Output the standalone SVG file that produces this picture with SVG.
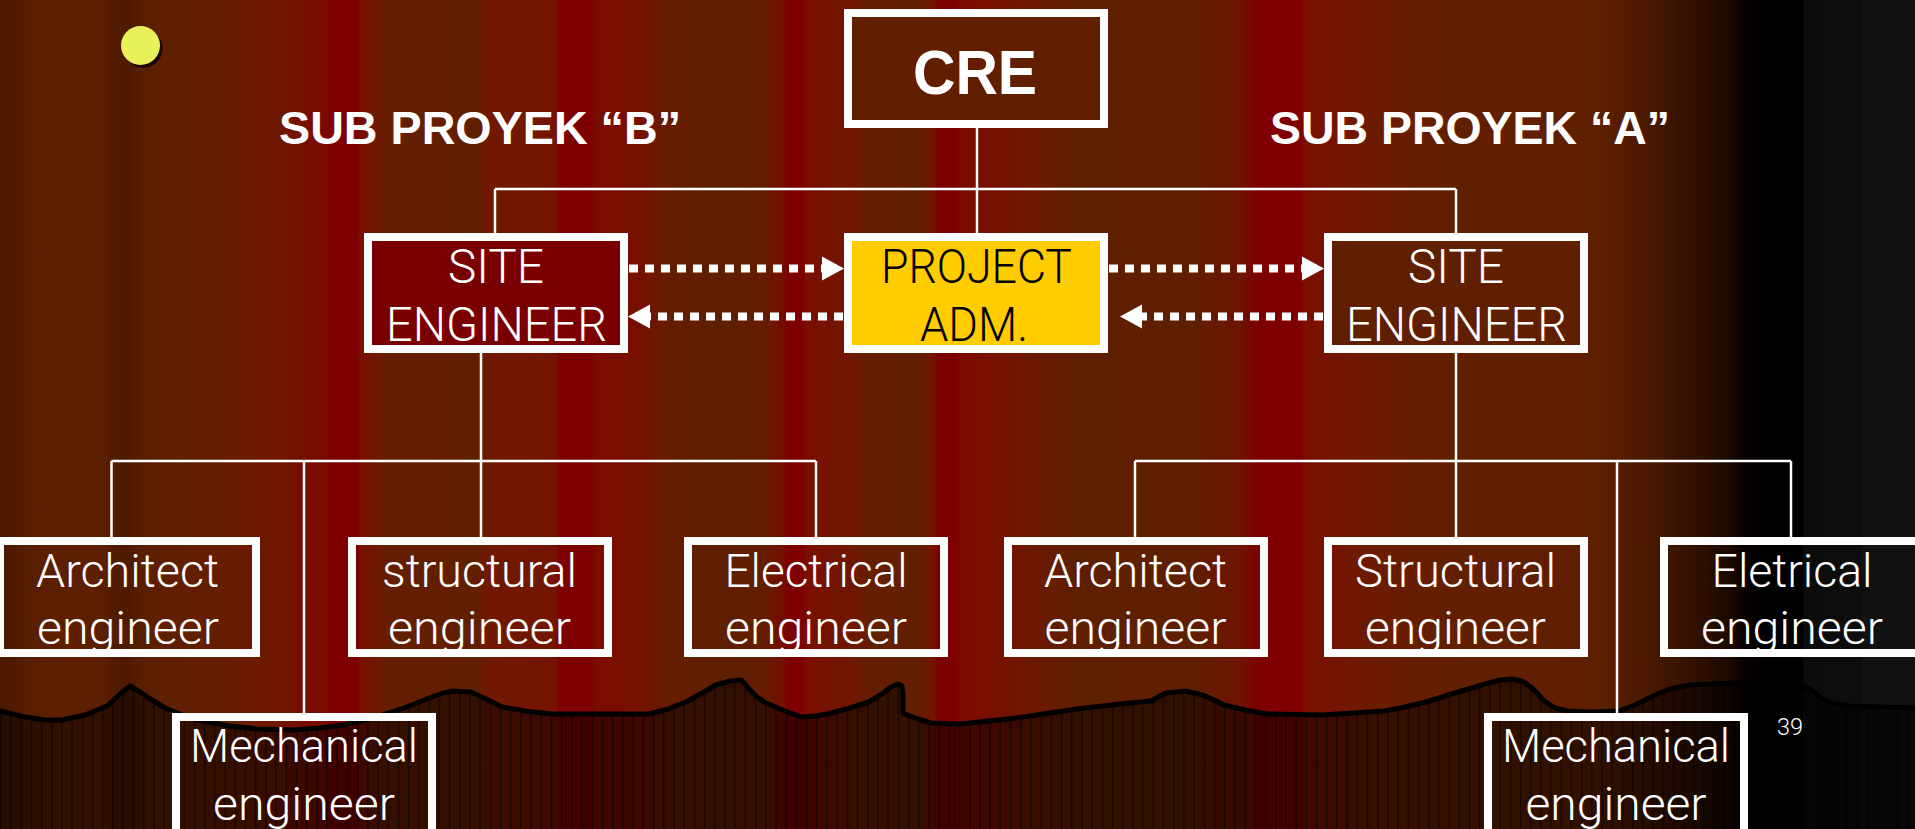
<svg xmlns="http://www.w3.org/2000/svg" width="1915" height="829" viewBox="0 0 1915 829">
  <defs>
    <linearGradient id="bg" gradientUnits="userSpaceOnUse" x1="0" y1="0" x2="1915" y2="0">
      <stop offset="0" stop-color="#4A1800"/>
      <stop offset=".0157" stop-color="#581D00"/>
      <stop offset=".0313" stop-color="#5E1F00"/>
      <stop offset=".0522" stop-color="#5E1F00"/>
      <stop offset=".0601" stop-color="#521B00"/>
      <stop offset=".0668" stop-color="#4E1A00"/>
      <stop offset=".0742" stop-color="#591E00"/>
      <stop offset=".0836" stop-color="#5F1F00"/>
      <stop offset=".1149" stop-color="#661D00"/>
      <stop offset=".1462" stop-color="#701600"/>
      <stop offset=".1702" stop-color="#7A0900"/>
      <stop offset=".1734" stop-color="#7E0000"/>
      <stop offset=".1864" stop-color="#7E0000"/>
      <stop offset=".1890" stop-color="#771200"/>
      <stop offset=".2037" stop-color="#651E00"/>
      <stop offset=".2496" stop-color="#621F00"/>
      <stop offset=".2538" stop-color="#701900"/>
      <stop offset=".2898" stop-color="#741400"/>
      <stop offset=".2924" stop-color="#7E0000"/>
      <stop offset=".3081" stop-color="#7E0000"/>
      <stop offset=".3107" stop-color="#7B0C00"/>
      <stop offset=".3342" stop-color="#761000"/>
      <stop offset=".3473" stop-color="#661C00"/>
      <stop offset=".3770" stop-color="#5E1F00"/>
      <stop offset=".3995" stop-color="#661C00"/>
      <stop offset=".4094" stop-color="#760C00"/>
      <stop offset=".4115" stop-color="#7E0000"/>
      <stop offset=".4188" stop-color="#7E0000"/>
      <stop offset=".4209" stop-color="#7A0E00"/>
      <stop offset=".4439" stop-color="#701700"/>
      <stop offset=".4543" stop-color="#641E00"/>
      <stop offset=".4794" stop-color="#621F00"/>
      <stop offset=".4877" stop-color="#741200"/>
      <stop offset=".4898" stop-color="#7E0000"/>
      <stop offset=".4987" stop-color="#7E0000"/>
      <stop offset=".5013" stop-color="#7A0A00"/>
      <stop offset=".5180" stop-color="#781000"/>
      <stop offset=".5431" stop-color="#6A1A00"/>
      <stop offset=".5624" stop-color="#5E1F00"/>
      <stop offset=".6204" stop-color="#5F1F00"/>
      <stop offset=".6475" stop-color="#6E1400"/>
      <stop offset=".6574" stop-color="#7E0000"/>
      <stop offset=".6794" stop-color="#7E0000"/>
      <stop offset=".6815" stop-color="#7A1000"/>
      <stop offset=".7227" stop-color="#6A1C00"/>
      <stop offset=".7593" stop-color="#621F00"/>
      <stop offset=".8345" stop-color="#5E1F00"/>
      <stop offset=".8616" stop-color="#4A1800"/>
      <stop offset=".8877" stop-color="#2E1000"/>
      <stop offset=".9034" stop-color="#1A0800"/>
      <stop offset=".9112" stop-color="#080000"/>
      <stop offset=".9191" stop-color="#000000"/>
      <stop offset=".9415" stop-color="#000000"/>
      <stop offset=".9420" stop-color="#0C0C0C"/>
      <stop offset=".9718" stop-color="#0D0D0D"/>
      <stop offset=".9729" stop-color="#111111"/>
      <stop offset="1" stop-color="#111111"/>
    </linearGradient>
    <pattern id="pleats" patternUnits="userSpaceOnUse" x="0" y="0" width="10.2" height="20">
      <rect x="0" y="0" width="1.4" height="20" fill="#000" fill-opacity="0.55"/>
    </pattern>
    <marker id="head" markerUnits="userSpaceOnUse" markerWidth="22" markerHeight="24" refX="0" refY="12" orient="auto" overflow="visible">
      <path d="M0,0 L22,12 L0,24 Z" fill="#FFFFFF"/>
    </marker>
    <path id="hem" d="M0,711 L25,717 L45,720 L62,720 L85,715 L107,706 L120,694 L130,686 L140,692 L152,700 L165,708 L185,716 L202,721 L230,726 L257,729 L294,730 L320,728 L343,725 L370,719 L392,712 L412,705 L429,698 L443,693 L453,691 L471,692 L486,699 L502,707 L525,711 L551,714 L600,714 L649,714 L668,709 L686,702 L702,693 L716,685 L730,681 L741,680 L746,685 L750,690 L757,697 L766,703 L785,711 L802,717 L815,716 L827,714 L850,708 L869,702 L882,694 L891,687 L898,684 L902,686 L903,695 L903,713 L915,718 L931,723 L960,724 L1016,718 L1077,709 L1120,704 L1151,701 L1160,696 L1166,693 L1185,691 L1203,695 L1214,700 L1224,705 L1245,710 L1267,714 L1322,715 L1384,711 L1405,707 L1426,702 L1455,693 L1482,685 L1500,680 L1512,679 L1522,681 L1531,687 L1538,694 L1543,700 L1555,708 L1567,711 L1590,712 L1619,711 L1635,705 L1653,696 L1670,689 L1690,685 L1733,683 L1770,683 L1800,685 L1810,689 L1815,693 L1822,699 L1828,702 L1849,706 L1880,707 L1915,708"/>
    <path id="drape" d="M0,711 L25,717 L45,720 L62,720 L85,715 L107,706 L120,694 L130,686 L140,692 L152,700 L165,708 L185,716 L202,721 L230,726 L257,729 L294,730 L320,728 L343,725 L370,719 L392,712 L412,705 L429,698 L443,693 L453,691 L471,692 L486,699 L502,707 L525,711 L551,714 L600,714 L649,714 L668,709 L686,702 L702,693 L716,685 L730,681 L741,680 L746,685 L750,690 L757,697 L766,703 L785,711 L802,717 L815,716 L827,714 L850,708 L869,702 L882,694 L891,687 L898,684 L902,686 L903,695 L903,713 L915,718 L931,723 L960,724 L1016,718 L1077,709 L1120,704 L1151,701 L1160,696 L1166,693 L1185,691 L1203,695 L1214,700 L1224,705 L1245,710 L1267,714 L1322,715 L1384,711 L1405,707 L1426,702 L1455,693 L1482,685 L1500,680 L1512,679 L1522,681 L1531,687 L1538,694 L1543,700 L1555,708 L1567,711 L1590,712 L1619,711 L1635,705 L1653,696 L1670,689 L1690,685 L1733,683 L1770,683 L1800,685 L1810,689 L1815,693 L1822,699 L1828,702 L1849,706 L1880,707 L1915,708 L1915,829 L0,829 Z"/>
    <style>
      .wire { stroke: #FFFFFF; stroke-width: 2.5; fill: none; }
      .dots { stroke: #FFFFFF; stroke-width: 8; stroke-dasharray: 9 7; fill: none; marker-end: url(#head); }
      .box { stroke: #FFFFFF; stroke-width: 8; }
      .open { fill: none; }
      .lbl { font-family: Roboto, "Liberation Sans", Arial, sans-serif; font-weight: 300; fill: #FFFFFF; text-anchor: middle; }
      .dark { fill: #000000; }
      .big { font-size: 48px; }
      .small { font-size: 47px; }
      .head { font-family: "Liberation Sans", Arial, sans-serif; font-weight: bold; fill: #FFFFFF; text-anchor: middle; }
    </style>
  </defs>

  <!-- striped stage background -->
  <rect x="0" y="0" width="1915" height="829" fill="url(#bg)"/>

  <!-- lower curtain with pleats and dark outline -->
  <g id="curtain">
    <use href="#drape" fill="#000" fill-opacity="0.48"/>
    <use href="#drape" fill="url(#pleats)"/>
    <use href="#hem" fill="none" stroke="#000" stroke-width="5" stroke-linejoin="round"/>
  </g>

  <!-- bullet -->
  <g id="bullet">
    <circle cx="143" cy="48.5" r="19.5" fill="#1A0600"/>
    <circle cx="140.5" cy="45.5" r="19.5" fill="#E8F05A"/>
  </g>

  <!-- section headings -->
  <text id="headingB" class="head" x="480" y="144" font-size="46" textLength="402" lengthAdjust="spacingAndGlyphs">SUB PROYEK “B”</text>
  <text id="headingA" class="head" x="1470" y="144" font-size="46" textLength="400" lengthAdjust="spacingAndGlyphs">SUB PROYEK “A”</text>

  <!-- connectors -->
  <g id="connectors">
    <line class="wire" x1="977" y1="128" x2="977" y2="233"/>
    <line class="wire" x1="495" y1="189" x2="1456" y2="189"/>
    <line class="wire" x1="495" y1="189" x2="495" y2="233"/>
    <line class="wire" x1="1456" y1="189" x2="1456" y2="233"/>

    <line class="wire" x1="481" y1="353" x2="481" y2="461"/>
    <line class="wire" x1="111.5" y1="461" x2="816" y2="461"/>
    <line class="wire" x1="111.5" y1="461" x2="111.5" y2="537"/>
    <line class="wire" x1="304" y1="461" x2="304" y2="713"/>
    <line class="wire" x1="481" y1="461" x2="481" y2="537"/>
    <line class="wire" x1="816" y1="461" x2="816" y2="537"/>

    <line class="wire" x1="1456" y1="353" x2="1456" y2="461"/>
    <line class="wire" x1="1135" y1="461" x2="1791" y2="461"/>
    <line class="wire" x1="1135" y1="461" x2="1135" y2="537"/>
    <line class="wire" x1="1456" y1="461" x2="1456" y2="537"/>
    <line class="wire" x1="1617" y1="461" x2="1617" y2="713"/>
    <line class="wire" x1="1791" y1="461" x2="1791" y2="537"/>

    <line class="dots" x1="629" y1="268.5" x2="822" y2="268.5"/>
    <line class="dots" x1="843" y1="316.5" x2="650" y2="316.5"/>
    <line class="dots" x1="1109" y1="268.5" x2="1302" y2="268.5"/>
    <line class="dots" x1="1323" y1="316.5" x2="1142" y2="316.5"/>
  </g>

  <!-- top level -->
  <g id="cre">
    <rect class="box" x="848" y="13" width="256" height="111" fill="#621F00"/>
    <text class="head" x="975" y="94" font-size="63" textLength="124" lengthAdjust="spacingAndGlyphs">CRE</text>
  </g>

  <g id="siteEngineerB">
    <rect class="box" x="368" y="237" width="256" height="112" fill="#7A0000"/>
    <text class="lbl big" x="496" y="283" textLength="96" lengthAdjust="spacingAndGlyphs">SITE</text>
    <text class="lbl big" x="496.5" y="341" textLength="221" lengthAdjust="spacingAndGlyphs">ENGINEER</text>
  </g>

  <g id="projectAdm">
    <rect class="box" x="848" y="237" width="256" height="112" fill="#FFCC00"/>
    <text class="lbl big dark" x="976.5" y="283" textLength="191" lengthAdjust="spacingAndGlyphs">PROJECT</text>
    <text class="lbl big dark" x="974" y="341" textLength="108" lengthAdjust="spacingAndGlyphs">ADM.</text>
  </g>

  <g id="siteEngineerA">
    <rect class="box" x="1328" y="237" width="256" height="112" fill="#601F00"/>
    <text class="lbl big" x="1456" y="283" textLength="96" lengthAdjust="spacingAndGlyphs">SITE</text>
    <text class="lbl big" x="1456.5" y="341" textLength="221" lengthAdjust="spacingAndGlyphs">ENGINEER</text>
  </g>

  <!-- sub project B engineers -->
  <g id="architectB">
    <text class="lbl small" x="127.5" y="587" textLength="183" lengthAdjust="spacingAndGlyphs">Architect</text>
    <text class="lbl small" x="128" y="644" textLength="182" lengthAdjust="spacingAndGlyphs">engineer</text>
    <rect class="box open" x="0" y="541" width="256" height="112"/>
  </g>

  <g id="structuralB">
    <text class="lbl small" x="479.5" y="587" textLength="195" lengthAdjust="spacingAndGlyphs">structural</text>
    <text class="lbl small" x="479.5" y="644" textLength="183" lengthAdjust="spacingAndGlyphs">engineer</text>
    <rect class="box open" x="352" y="541" width="256" height="112"/>
  </g>

  <g id="electricalB">
    <text class="lbl small" x="816" y="587" textLength="183" lengthAdjust="spacingAndGlyphs">Electrical</text>
    <text class="lbl small" x="816" y="644" textLength="182" lengthAdjust="spacingAndGlyphs">engineer</text>
    <rect class="box open" x="688" y="541" width="256" height="112"/>
  </g>

  <g id="mechanicalB">
    <text class="lbl small" x="304" y="762" textLength="228" lengthAdjust="spacingAndGlyphs">Mechanical</text>
    <text class="lbl small" x="304" y="820" textLength="182" lengthAdjust="spacingAndGlyphs">engineer</text>
    <rect class="box open" x="176" y="717" width="256" height="130"/>
  </g>

  <!-- sub project A engineers -->
  <g id="architectA">
    <text class="lbl small" x="1135.5" y="587" textLength="183" lengthAdjust="spacingAndGlyphs">Architect</text>
    <text class="lbl small" x="1135.5" y="644" textLength="182" lengthAdjust="spacingAndGlyphs">engineer</text>
    <rect class="box open" x="1008" y="541" width="256" height="112"/>
  </g>

  <g id="structuralA">
    <text class="lbl small" x="1455.5" y="587" textLength="201" lengthAdjust="spacingAndGlyphs">Structural</text>
    <text class="lbl small" x="1455.5" y="644" textLength="181" lengthAdjust="spacingAndGlyphs">engineer</text>
    <rect class="box open" x="1328" y="541" width="256" height="112"/>
  </g>

  <g id="electricalA">
    <text class="lbl small" x="1792" y="587" textLength="161" lengthAdjust="spacingAndGlyphs">Eletrical</text>
    <text class="lbl small" x="1792" y="644" textLength="182" lengthAdjust="spacingAndGlyphs">engineer</text>
    <rect class="box open" x="1664" y="541" width="256" height="112"/>
  </g>

  <g id="mechanicalA">
    <text class="lbl small" x="1616" y="762" textLength="228" lengthAdjust="spacingAndGlyphs">Mechanical</text>
    <text class="lbl small" x="1616" y="820" textLength="181" lengthAdjust="spacingAndGlyphs">engineer</text>
    <rect class="box open" x="1488" y="717" width="256" height="130"/>
  </g>

  <!-- slide number -->
  <text id="pageNumber" class="lbl" x="1790" y="735" font-size="24" textLength="26" lengthAdjust="spacingAndGlyphs">39</text>
</svg>
